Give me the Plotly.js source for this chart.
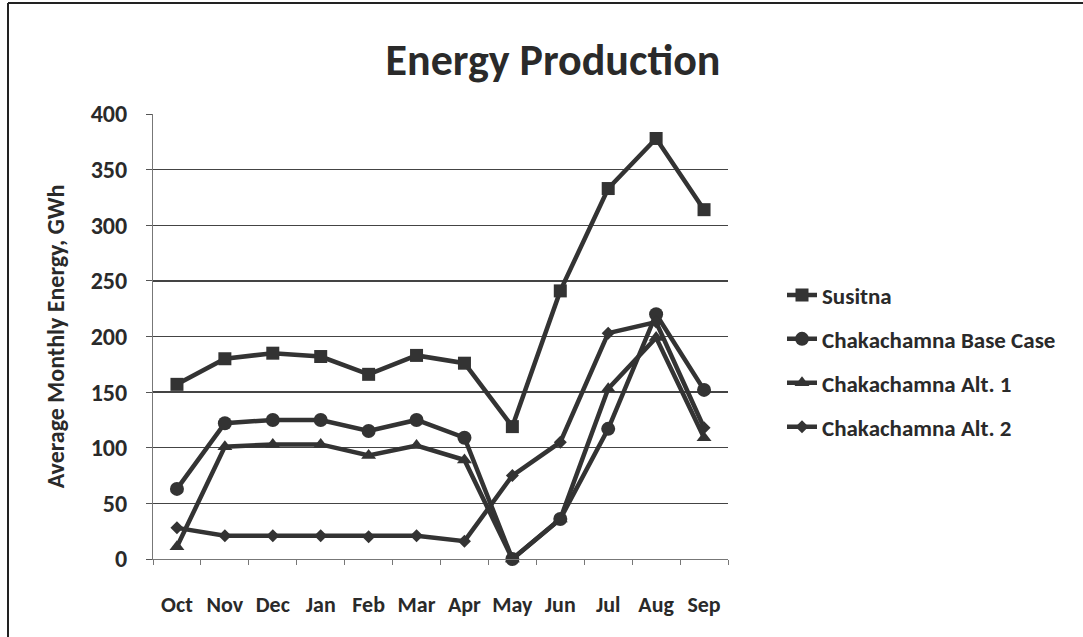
<!DOCTYPE html>
<html>
<head>
<meta charset="utf-8">
<script src="https://cdn.plot.ly/plotly-3.0.1.min.js"></script>
<style>
  html, body { margin: 0; padding: 0; background: #ffffff; }
  #chart { width: 1083px; height: 637px; }
</style>
</head>
<body>
<div id="chart"></div>
<script>
const months = ["Oct", "Nov", "Dec", "Jan", "Feb", "Mar", "Apr", "May", "Jun", "Jul", "Aug", "Sep"];
const susitna = [157, 180, 185, 182, 166, 183, 176, 119, 241, 333, 378, 314];
const baseCase = [63, 122, 125, 125, 115, 125, 109, 0, 36, 117, 220, 152];
const alt1 = [11, 101, 103, 103, 93, 102, 89, 0, 36, 153, 199, 109];
const alt2 = [28, 21, 21, 21, 20, 21, 16, 75, 105, 203, 213, 118];
const seriesNames = ["Susitna", "Chakachamna Base Case", "Chakachamna Alt. 1", "Chakachamna Alt. 2"];

const FONT = "Carlito, Lato, 'Open Sans', sans-serif";
const INK = "#333333";
const TXT = "#2a2a2a";

function mk(name, y, symbol, size, group) {
  return {
    type: "scatter", mode: "lines+markers", name: name, x: months, y: y,
    legendgroup: group,
    line: { color: INK, width: 4.5 },
    marker: { symbol: symbol, size: size, color: INK, line: { color: INK, width: 0 } },
    cliponaxis: false
  };
}

const data = [
  mk(seriesNames[0], susitna, "square", 13, "g1"),
  mk(seriesNames[1], baseCase, "circle", 14, "g2"),
  mk(seriesNames[2], alt1, "triangle-up", 13, "g3"),
  mk(seriesNames[3], alt2, "diamond", 10, "g4")
];

const layout = {
  width: 1083, height: 637,
  paper_bgcolor: "#ffffff", plot_bgcolor: "#ffffff",
  margin: { l: 153, r: 355, t: 114, b: 78 },
  font: { family: FONT, color: TXT, size: 18 },
  title: {
    text: "<b>Energy Production</b>",
    font: { family: FONT, size: 44, color: TXT },
    x: 553 / 1083, xref: "container", xanchor: "center",
    y: 1 - 60 / 637, yref: "container", yanchor: "middle"
  },
  xaxis: {
    type: "category",
    range: [-0.5, 11.5],
    tickson: "boundaries",
    tickangle: 0,
    ticks: "outside", ticklen: 5, tickcolor: "#777", tickwidth: 1,
    showgrid: false,
    showline: true, linecolor: "#777", linewidth: 1,
    zeroline: false,
    tickfont: { family: FONT, size: 22, color: TXT, weight: "bold" },
    ticklabelstandoff: 26,
    fixedrange: true
  },
  yaxis: {
    range: [0, 400], dtick: 50,
    ticks: "outside", ticklen: 6, tickcolor: "#555", tickwidth: 1,
    showgrid: true, gridcolor: "#444", gridwidth: 1.3,
    showline: true, linecolor: "#777", linewidth: 1,
    zeroline: false,
    tickfont: { family: FONT, size: 24, color: TXT, weight: "bold" },
    ticklabelstandoff: 14,
    title: { text: "<b>Average Monthly Energy, GWh</b>", font: { family: FONT, size: 24, color: TXT }, standoff: 19 },
    fixedrange: true
  },
  legend: {
    x: (782 - 153) / 575, xanchor: "left", y: 0.445, yanchor: "middle",
    font: { family: FONT, size: 23, color: TXT, weight: "bold" },
    tracegroupgap: 11,
    traceorder: "grouped",
    bgcolor: "rgba(0,0,0,0)"
  },
  shapes: [
    { type: "line", xref: "paper", yref: "paper", x0: (8 - 153) / 575, x1: (8 - 153) / 575, y0: (559 - 3) / 445, y1: (559 - 637) / 445, line: { color: "#222", width: 2 } },
    { type: "line", xref: "paper", yref: "paper", x0: (8 - 153) / 575, x1: (1083 - 153) / 575, y0: (559 - 3) / 445, y1: (559 - 3) / 445, line: { color: "#222", width: 2 } }
  ],
  showlegend: true
};

Plotly.newPlot("chart", data, layout, { displayModeBar: false, staticPlot: true });
</script>
</body>
</html>
